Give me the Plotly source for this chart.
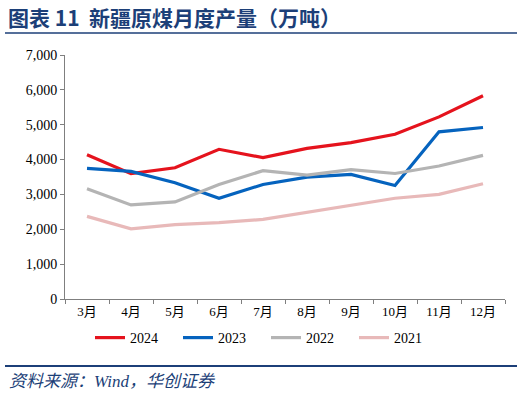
import plotly.graph_objects as go

months = ["3月", "4月", "5月", "6月", "7月", "8月", "9月", "10月", "11月", "12月"]
y2024 = [4140, 3595, 3765, 4295, 4055, 4320, 4485, 4725, 5225, 5830]
y2023 = [3745, 3660, 3335, 2890, 3285, 3495, 3575, 3255, 4795, 4920]
y2022 = [3160, 2700, 2785, 3285, 3680, 3555, 3710, 3600, 3815, 4120]
y2021 = [2370, 2015, 2135, 2190, 2285, 2490, 2680, 2890, 3000, 3305]

series = [
    ("2024", y2024, "#E5131D"),
    ("2023", y2023, "#0563BE"),
    ("2022", y2022, "#B4B4B4"),
    ("2021", y2021, "#E8B9B9"),
]

serif = "Times New Roman, Liberation Serif, Noto Sans CJK SC, serif"
navy = "#1C3F78"

fig = go.Figure()
for name, vals, color in series:
    fig.add_trace(go.Scatter(x=months, y=vals, name=name, mode="lines",
                             line=dict(color=color, width=3.2)))

L, R, T, B = 65, 505, 55, 299
W, H = R - L, B - T
def px(x): return (x - L) / W
def py(y): return (B - y) / H

fig.update_layout(
    width=524, height=393,
    margin=dict(l=L, r=524 - R, t=T, b=393 - B),
    paper_bgcolor="white", plot_bgcolor="white",
    font=dict(family=serif, size=13, color="black"),
    showlegend=True,
    legend=dict(orientation="h", x=px(90), xanchor="left", y=py(338), yanchor="middle",
                font=dict(family=serif, size=14, color="black"),
                itemwidth=30, tracegroupgap=0, entrywidth=43, entrywidthmode="pixels"),
    xaxis=dict(showline=True, linecolor="#7F7F7F", linewidth=1, ticks="outside",
               tickson="boundaries", ticklen=4, tickcolor="#7F7F7F",
               range=[-0.5, 9.5],
               showgrid=False, tickfont=dict(family=serif, size=13)),
    yaxis=dict(range=[0, 7000], dtick=1000, tickformat=",", showline=True,
               linecolor="#7F7F7F", linewidth=1, ticks="outside", ticklen=4,
               tickcolor="#7F7F7F", showgrid=False, zeroline=False,
               tickfont=dict(family=serif, size=14)),
    shapes=[
        dict(type="line", xref="paper", yref="paper", x0=px(5), x1=px(517),
             y0=py(33), y1=py(33), line=dict(color=navy, width=1.5)),
        dict(type="line", xref="paper", yref="paper", x0=px(5), x1=px(517),
             y0=py(366), y1=py(366), line=dict(color=navy, width=2.2)),
    ],
    annotations=[
        dict(text="<b>图表 11  新疆原煤月度产量（万吨）</b>", xref="paper", yref="paper",
             x=px(6), y=py(17), xanchor="left", yanchor="middle", showarrow=False,
             font=dict(family="Noto Sans CJK SC", size=21, color=navy)),
        dict(text="<i>资料来源：Wind，华创证券</i>", xref="paper", yref="paper",
             x=px(7), y=py(381), xanchor="left", yanchor="middle", showarrow=False,
             font=dict(family="Times New Roman, Liberation Serif, Noto Sans CJK SC", size=17, color=navy)),
    ],
)

fig.write_html("out.html", config={"displayModeBar": False},
               post_script="document.body.style.margin='0';")
